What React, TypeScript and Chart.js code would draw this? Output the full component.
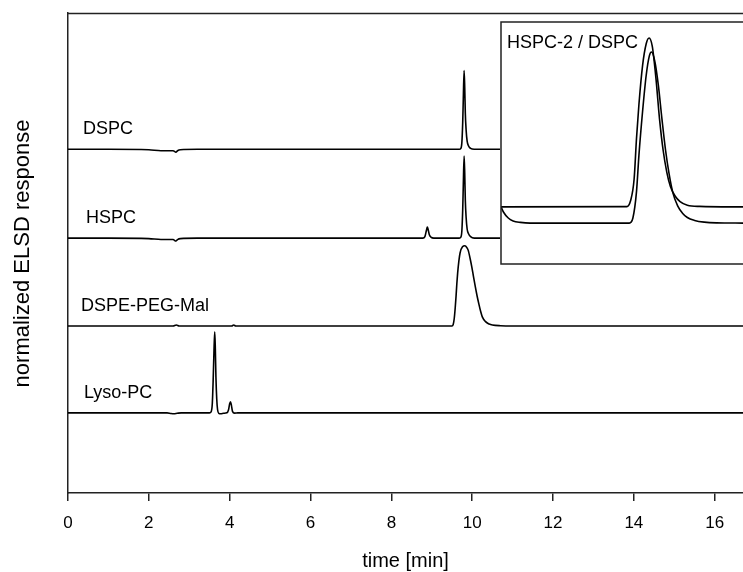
import { useEffect, useRef } from "react";
import { Chart, registerables } from "chart.js";

Chart.register(...registerables);

// ---------- data ----------
const xTickValues = [0, 2, 4, 6, 8, 10, 12, 14, 16];
const xMax = 16.7;

const traceNames = ["DSPC", "HSPC", "DSPE-PEG-Mal", "Lyso-PC"];

const dspcTime = [0, 1.0, 2.0, 2.3, 2.6, 2.67, 2.71, 2.78, 3.2, 9.68, 9.72, 9.745, 9.765, 9.78, 9.8, 9.815, 9.83, 9.85, 9.875, 9.91, 9.96, 10.05, 16.7];
const dspcSignal = [71.6, 71.6, 71.5, 71.3, 71.3, 71.0, 71.3, 71.5, 71.6, 71.6, 71.8, 73.1, 77.1, 82.1, 88.0, 84.6, 79.1, 75.6, 73.3, 72.3, 71.8, 71.6, 71.6];

const hspcTime = [0, 1.0, 2.0, 2.3, 2.6, 2.67, 2.71, 2.78, 3.2, 8.78, 8.83, 8.87, 8.89, 8.91, 8.94, 8.98, 9.05, 9.68, 9.72, 9.745, 9.765, 9.78, 9.8, 9.815, 9.83, 9.85, 9.875, 9.91, 9.96, 10.05, 16.7];
const hspcSignal = [53.1, 53.1, 53.0, 52.8, 52.8, 52.5, 52.8, 53.0, 53.1, 53.1, 53.4, 54.8, 55.4, 54.9, 53.8, 53.3, 53.1, 53.1, 53.3, 54.7, 58.9, 64.1, 70.2, 66.7, 61.0, 57.4, 55.0, 54.0, 53.4, 53.1, 53.1];

const dspeTime = [0, 2.6, 2.68, 2.75, 4.05, 4.1, 4.15, 9.5, 9.53, 9.555, 9.58, 9.6, 9.62, 9.64, 9.67, 9.7, 9.76, 9.82, 9.87, 9.9, 9.95, 9.99, 10.03, 10.07, 10.12, 10.17, 10.21, 10.25, 10.33, 10.42, 10.5, 10.7, 11.0, 16.7];
const dspeSignal = [34.8, 34.8, 35.0, 34.8, 34.8, 35.0, 34.8, 34.8, 35.1, 36.3, 38.6, 40.9, 43.6, 45.8, 48.3, 50.0, 51.3, 51.5, 51.1, 50.6, 48.8, 47.1, 45.2, 43.3, 41.1, 39.2, 37.8, 36.7, 35.7, 35.2, 35.0, 34.85, 34.8, 34.8];

const lysoTime = [0, 2.45, 2.55, 2.62, 2.7, 2.8, 3.5, 3.54, 3.57, 3.59, 3.61, 3.63, 3.645, 3.66, 3.68, 3.7, 3.73, 3.78, 3.85, 3.93, 3.97, 4.0, 4.02, 4.04, 4.07, 4.12, 4.2, 16.7];
const lysoSignal = [16.7, 16.7, 16.55, 16.5, 16.6, 16.7, 16.7, 16.9, 18.6, 23.1, 29.1, 33.6, 30.1, 24.1, 19.6, 17.4, 16.6, 16.5, 16.6, 16.7, 17.3, 18.6, 19.0, 18.4, 17.0, 16.65, 16.7, 16.7];

const insetTitle = "HSPC-2 / DSPC";
const insetXMin = 9.23;
const insetXMax = 10.23;

const insetUpperTime = [9.23, 9.75, 9.765, 9.78, 9.79, 9.8, 9.815, 9.83, 9.842, 9.855, 9.87, 9.885, 9.9, 9.915, 9.93, 9.95, 9.97, 10.0, 10.05, 10.23];
const insetUpperSignal = [23.6, 23.7, 26, 35, 52, 66, 82, 91, 93.4, 90, 77, 60, 47, 38, 32, 28, 25.8, 24.3, 23.8, 23.6];

const insetLowerTime = [9.23, 9.24, 9.26, 9.28, 9.31, 9.35, 9.76, 9.775, 9.79, 9.8, 9.815, 9.83, 9.843, 9.852, 9.865, 9.88, 9.895, 9.91, 9.925, 9.94, 9.96, 9.98, 10.0, 10.03, 10.07, 10.12, 10.23];
const insetLowerSignal = [23.6, 21.5, 19, 17.8, 17.2, 16.9, 16.9, 19, 30, 45, 63, 78, 86, 87.6, 84, 74, 60, 47, 37, 29.5, 24, 21, 19.2, 18, 17.3, 17, 16.9];

// ---------- helpers ----------
const toPoints = (t: number[], v: number[]) => t.map((x, i) => ({ x, y: v[i] }));
const FONT = '"Liberation Sans", Arial, Helvetica, sans-serif';
const LINE = "#000";
const FRAME = "#222";

const lineDataset = (t: number[], v: number[]) => ({
  data: toPoints(t, v),
  borderColor: LINE,
  borderWidth: 1.6,
  pointRadius: 0,
  fill: false,
  cubicInterpolationMode: "monotone" as const,
});

export default function App() {
  const mainRef = useRef<HTMLCanvasElement>(null);
  const insetRef = useRef<HTMLCanvasElement>(null);

  useEffect(() => {
    if (!mainRef.current || !insetRef.current) return;

    const mainDecor = {
      id: "mainDecor",
      afterDraw(chart: any) {
        const { ctx, chartArea, scales } = chart;
        ctx.save();
        // top frame line
        ctx.strokeStyle = FRAME;
        ctx.lineWidth = 1.5;
        ctx.beginPath();
        ctx.moveTo(chartArea.left, chartArea.top + 0.5);
        ctx.lineTo(chartArea.right, chartArea.top + 0.5);
        ctx.stroke();

        // trace labels
        ctx.fillStyle = "#000";
        ctx.font = `18px ${FONT}`;
        ctx.textAlign = "left";
        ctx.textBaseline = "middle";
        const baselines = [dspcSignal[0], hspcSignal[0], dspeSignal[0], lysoSignal[0]];
        const dx = [15, 18, 13, 16];
        traceNames.forEach((name, i) => {
          const y = scales.y.getPixelForValue(baselines[i]) - 20;
          ctx.fillText(name, chartArea.left + dx[i], y);
        });

        // axis titles
        ctx.font = `20px ${FONT}`;
        ctx.textAlign = "center";
        ctx.textBaseline = "middle";
        ctx.fillText("time [min]", (chartArea.left + 743) / 2, 561);
        ctx.font = `22px ${FONT}`;
        ctx.textBaseline = "alphabetic";
        ctx.translate(28.5, 253.5);
        ctx.rotate(-Math.PI / 2);
        ctx.fillText("normalized ELSD response", 0, 0);
        ctx.restore();
      },
    };

    const main = new Chart(mainRef.current, {
      type: "line",
      data: {
        datasets: [
          lineDataset(dspcTime, dspcSignal),
          lineDataset(hspcTime, hspcSignal),
          lineDataset(dspeTime, dspeSignal),
          lineDataset(lysoTime, lysoSignal),
        ],
      },
      options: {
        responsive: false,
        animation: false,
        events: [],
        layout: { padding: { top: 13, right: 0, left: 0, bottom: 0 } },
        plugins: { legend: { display: false }, tooltip: { enabled: false } },
        scales: {
          x: {
            type: "linear",
            min: 0,
            max: xMax,
            afterBuildTicks: (s: any) => {
              s.ticks = xTickValues.map((v) => ({ value: v }));
            },
            afterFit: (s: any) => {
              s.height = 79;
            },
            ticks: {
              includeBounds: false,
              color: "#000",
              padding: 12,
              maxRotation: 0,
              font: { family: FONT, size: 17 },
            },
            grid: {
              display: true,
              drawOnChartArea: false,
              drawTicks: true,
              tickLength: 8,
              color: FRAME,
              lineWidth: 1.5,
            },
            border: { display: true, color: FRAME, width: 1.5 },
          },
          y: {
            type: "linear",
            min: 0,
            max: 100,
            afterFit: (s: any) => {
              s.width = 68;
            },
            ticks: { display: false },
            grid: { display: false, drawTicks: false },
            border: { display: true, color: FRAME, width: 1.5 },
          },
        },
      },
      plugins: [mainDecor],
    } as any);

    const insetDecor = {
      id: "insetDecor",
      afterDraw(chart: any) {
        const { ctx, chartArea } = chart;
        ctx.save();
        ctx.strokeStyle = FRAME;
        ctx.lineWidth = 1.5;
        ctx.beginPath();
        ctx.moveTo(chartArea.right, chartArea.top);
        ctx.lineTo(chartArea.left, chartArea.top);
        ctx.lineTo(chartArea.left, chartArea.bottom);
        ctx.lineTo(chartArea.right, chartArea.bottom);
        ctx.stroke();
        ctx.fillStyle = "#000";
        ctx.font = `18px ${FONT}`;
        ctx.textAlign = "left";
        ctx.textBaseline = "middle";
        ctx.fillText(insetTitle, chartArea.left + 6, chartArea.top + 21);
        ctx.restore();
      },
    };

    const inset = new Chart(insetRef.current, {
      type: "line",
      data: {
        datasets: [
          lineDataset(insetUpperTime, insetUpperSignal),
          lineDataset(insetLowerTime, insetLowerSignal),
        ],
      },
      options: {
        responsive: false,
        animation: false,
        events: [],
        layout: { padding: { top: 1, left: 1, right: 0, bottom: 2 } },
        plugins: { legend: { display: false }, tooltip: { enabled: false } },
        scales: {
          x: { type: "linear", display: false, min: insetXMin, max: insetXMax },
          y: { type: "linear", display: false, min: 0, max: 100 },
        },
      },
      plugins: [insetDecor],
    } as any);

    return () => {
      main.destroy();
      inset.destroy();
    };
  }, []);

  return (
    <div style={{ position: "absolute", left: 0, top: 0, width: 743, height: 572, overflow: "hidden", background: "#fff" }}>
      <canvas ref={mainRef} width={743} height={572} style={{ position: "absolute", left: 0, top: 0 }} />
      <div style={{ position: "absolute", left: 500, top: 21, width: 243, height: 245, background: "#fff" }}>
        <canvas ref={insetRef} width={243} height={245} style={{ display: "block" }} />
      </div>
    </div>
  );
}
